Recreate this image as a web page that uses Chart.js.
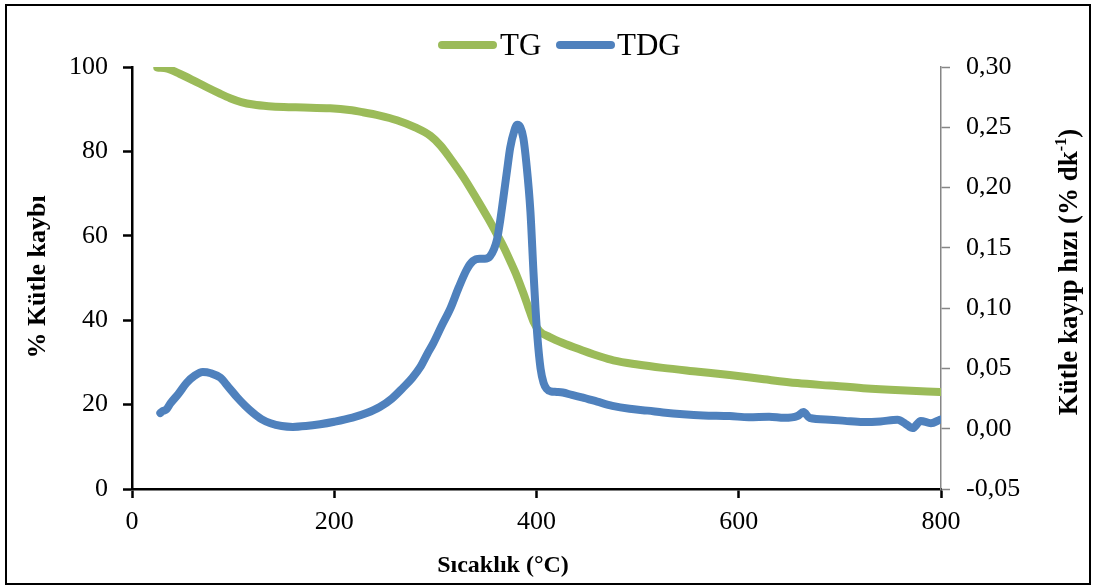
<!DOCTYPE html>
<html>
<head>
<meta charset="utf-8">
<title>TG / TDG</title>
<script src="https://cdn.jsdelivr.net/npm/chart.js@4/dist/chart.umd.min.js"></script>
<style>
  html, body { margin: 0; padding: 0; background: #fff; }
  #wrap { width: 1095px; height: 586px; }
</style>
</head>
<body>
<div id="wrap"><canvas id="chart" width="1095" height="586"></canvas></div>
<script>
// TG curve: temperature (°C) and % mass
const tgTemp = [25, 35, 47, 60, 74, 86, 97, 108, 120, 135, 150, 170, 196, 215, 228, 245, 262, 280, 295, 305, 314, 328, 341, 352, 361, 368, 374, 381, 387, 392, 397, 403, 413, 426, 445, 463, 476, 500, 525, 560, 591, 625, 658, 690, 723, 760, 799];
const tgMass = [99.9, 99.6, 98.4, 96.9, 95.2, 93.8, 92.6, 91.7, 91.1, 90.7, 90.5, 90.4, 90.2, 89.8, 89.3, 88.5, 87.4, 85.7, 83.7, 81.4, 78.6, 73.8, 68.7, 64.2, 60.3, 57.1, 54.0, 50.2, 46.4, 43.0, 39.7, 37.4, 36.0, 34.6, 32.9, 31.4, 30.5, 29.5, 28.7, 27.8, 27.0, 26.0, 25.1, 24.5, 23.9, 23.4, 23.0];

// TDG curve: temperature (°C) and mass loss rate (% / min)
const tdgTemp = [28, 30, 34, 38, 46, 54, 62, 70, 78, 87, 95, 104, 112, 120, 128, 137, 148, 159, 172, 186, 200, 218, 232, 245, 257, 268, 277, 285, 292, 298, 306, 315, 323, 331, 337, 344, 349, 354, 358, 361, 364, 367, 371, 374, 378, 381, 384, 387, 390, 394, 397, 399, 401, 404, 407, 410, 414, 420, 426, 435, 445, 460, 475, 492, 510, 525, 545, 565, 591, 610, 630, 645, 658, 664, 670, 690, 705, 723, 740, 757, 765, 772, 780, 790, 799];
const tdgRate = [0.013, 0.0145, 0.016, 0.021, 0.029, 0.038, 0.044, 0.047, 0.046, 0.0425, 0.035, 0.026, 0.019, 0.013, 0.008, 0.0045, 0.0022, 0.0015, 0.0022, 0.0037, 0.0058, 0.0092, 0.013, 0.018, 0.025, 0.034, 0.042, 0.051, 0.062, 0.071, 0.085, 0.100, 0.117, 0.132, 0.139, 0.141, 0.141, 0.143, 0.149, 0.157, 0.172, 0.190, 0.215, 0.233, 0.247, 0.252, 0.250, 0.241, 0.220, 0.180, 0.130, 0.100, 0.075, 0.050, 0.038, 0.033, 0.031, 0.0305, 0.030, 0.028, 0.026, 0.0225, 0.019, 0.0165, 0.015, 0.0135, 0.012, 0.011, 0.0105, 0.0095, 0.010, 0.009, 0.0105, 0.0138, 0.009, 0.0075, 0.0065, 0.0055, 0.006, 0.0075, 0.004, 0.0005, 0.0065, 0.0045, 0.0075];

const xTicks = [0, 200, 400, 600, 800];
const seriesNames = ["TG", "TDG"];
const seriesColors = ["#9BBB59", "#4F81BD"];

const serif = "'Liberation Serif', 'Times New Roman', serif";

const toPoints = (xs, ys) => xs.map((x, i) => ({ x: x, y: ys[i] }));

// white background + outer frame
const framePlugin = {
  id: "frame",
  beforeDraw(chart) {
    const ctx = chart.ctx;
    ctx.save();
    ctx.fillStyle = "#fff";
    ctx.fillRect(0, 0, chart.width, chart.height);
    ctx.restore();
  },
  afterDraw(chart) {
    const ctx = chart.ctx;
    ctx.save();
    ctx.strokeStyle = "#000";
    ctx.lineWidth = 2;
    ctx.strokeRect(6, 5, 1084, 579);
    ctx.restore();
  }
};

// legend with long line markers, like the Excel one
const lineLegend = {
  id: "lineLegend",
  afterDraw(chart) {
    const ctx = chart.ctx;
    const items = [
      { x: 438, textX: 500 },
      { x: 556, textX: 617 }
    ];
    ctx.save();
    ctx.font = "31px " + serif;
    ctx.textBaseline = "alphabetic";
    ctx.fillStyle = "#000";
    chart.data.datasets.forEach((ds, i) => {
      const it = items[i];
      ctx.strokeStyle = ds.borderColor;
      ctx.lineWidth = 8;
      ctx.lineCap = "round";
      ctx.beginPath();
      ctx.moveTo(it.x + 4, 45);
      ctx.lineTo(it.x + 55, 45);
      ctx.stroke();
      ctx.fillText(ds.label, it.textX, 55);
    });
    ctx.restore();
  }
};

// axis titles (the right one has a superscript)
const axisTitles = {
  id: "axisTitles",
  afterDraw(chart) {
    const ctx = chart.ctx;
    ctx.save();
    ctx.fillStyle = "#000";
    ctx.font = "bold 24px " + serif;
    ctx.textAlign = "center";
    ctx.textBaseline = "middle";
    ctx.fillText("Sıcaklık (°C)", 503, 566);

    ctx.save();
    ctx.translate(38, 277);
    ctx.rotate(-Math.PI / 2);
    ctx.font = "bold 26px " + serif;
    ctx.fillText("% Kütle kaybı", 0, 0);
    ctx.restore();

    ctx.save();
    ctx.translate(1070, 272);
    ctx.rotate(-Math.PI / 2);
    const bold = "bold 27px " + serif;
    const supFont = "bold 16px " + serif;
    const main = "Kütle kayıp hızı (% dk";
    const sup = "-1";
    const close = ")";
    ctx.font = bold;
    const wMain = ctx.measureText(main).width;
    const wClose = ctx.measureText(close).width;
    ctx.font = supFont;
    const wSup = ctx.measureText(sup).width;
    let x = -(wMain + wSup + wClose) / 2;
    ctx.textAlign = "left";
    ctx.font = bold;
    ctx.fillText(main, x, 0);
    x += wMain;
    ctx.font = supFont;
    ctx.fillText(sup, x, -8);
    x += wSup;
    ctx.font = bold;
    ctx.fillText(close, x, 0);
    ctx.restore();

    ctx.restore();
  }
};

const tickFont = { family: serif, size: 26 };
const ctx = document.getElementById("chart").getContext("2d");
new Chart(ctx, {
  type: "line",
  data: {
    datasets: [
      {
        label: seriesNames[0],
        data: toPoints(tgTemp, tgMass),
        yAxisID: "y",
        borderColor: seriesColors[0],
        backgroundColor: seriesColors[0],
        borderWidth: 8,
        borderCapStyle: "round",
        borderJoinStyle: "round",
        pointRadius: 0,
        cubicInterpolationMode: "monotone",
        order: 1
      },
      {
        label: seriesNames[1],
        data: toPoints(tdgTemp, tdgRate),
        yAxisID: "y2",
        borderColor: seriesColors[1],
        backgroundColor: seriesColors[1],
        borderWidth: 8,
        borderCapStyle: "round",
        borderJoinStyle: "round",
        pointRadius: 0,
        cubicInterpolationMode: "monotone",
        order: 0
      }
    ]
  },
  options: {
    responsive: false,
    animation: false,
    devicePixelRatio: 1,
    layout: { padding: { top: 67, left: 0, right: 0, bottom: 0 } },
    plugins: {
      legend: { display: false },
      tooltip: { enabled: false }
    },
    scales: {
      x: {
        type: "linear",
        min: 0,
        max: 800,
        afterFit: (scale) => { scale.height = 97; },
        afterBuildTicks: (scale) => { scale.ticks = xTicks.map((v) => ({ value: v })); },
        ticks: {
          color: "#000",
          font: tickFont,
          padding: 9,
          maxRotation: 0
        },
        grid: {
          drawOnChartArea: false,
          drawTicks: true,
          tickLength: 9,
          tickWidth: 2.5,
          tickColor: "#000"
        },
        border: { color: "#000", width: 2.5 }
      },
      y: {
        position: "left",
        min: 0,
        max: 100,
        afterFit: (scale) => { scale.width = 132; },
        ticks: {
          stepSize: 20,
          color: "#000",
          font: tickFont,
          padding: 15
        },
        grid: {
          drawOnChartArea: false,
          drawTicks: true,
          tickLength: 9,
          tickWidth: 2.5,
          tickColor: "#000"
        },
        border: { color: "#000", width: 2.5 }
      },
      y2: {
        position: "right",
        min: -0.05,
        max: 0.30,
        afterFit: (scale) => { scale.width = 154; },
        ticks: {
          stepSize: 0.05,
          color: "#000",
          font: tickFont,
          padding: 16,
          callback: (v) => (Math.abs(v) < 1e-9 ? 0 : v).toFixed(2).replace(".", ",")
        },
        grid: {
          drawOnChartArea: false,
          drawTicks: true,
          tickLength: 9,
          tickWidth: 1.5,
          tickColor: "#868686"
        },
        border: { color: "#868686", width: 1.5 }
      }
    }
  },
  plugins: [framePlugin, lineLegend, axisTitles]
});
</script>
</body>
</html>
